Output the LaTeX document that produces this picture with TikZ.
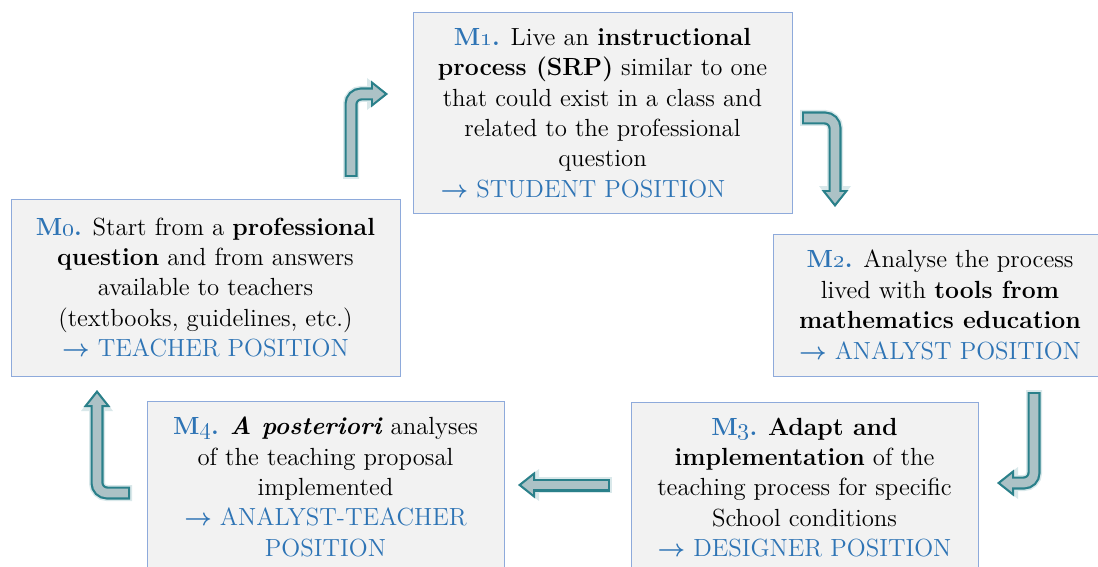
\documentclass[tikz,border=0pt]{standalone}
\usetikzlibrary{arrows.meta}

\definecolor{posblue}{RGB}{46,116,181}
\definecolor{boxline}{RGB}{142,170,219}
\definecolor{boxfill}{RGB}{242,242,242}
\definecolor{arrline}{RGB}{42,128,138}
\definecolor{arrfill}{RGB}{172,194,198}

\newcommand{\stage}[1]{\textcolor{posblue}{\textbf{M\oldstylenums{#1}.}}}
\newcommand{\role}[1]{\textcolor{posblue}{{\boldmath$\rightarrow$} #1}}

\tikzset{
  stagebox/.style={draw=boxline, fill=boxfill, line width=0.5pt, align=center,
    inner sep=0pt, font=\fontsize{12.4}{15.2}\selectfont},
  fatglow/.style={draw=arrline!18, line width=8pt, rounded corners=5pt,
    shorten <=-1pt,
    -{Triangle[width=16pt,length=10.5pt,line width=0pt]}},
  fatout/.style={draw=arrline, line width=6.5pt, rounded corners=5pt,
    -{Triangle[width=13.5pt,length=8.5pt,line width=0pt]}},
  fatin/.style={draw=arrfill, line width=4.3pt, rounded corners=5pt,
    shorten <=1.1pt, shorten >=1.8pt,
    -{Triangle[width=9pt,length=5.6pt,line width=0pt]}},
}

\begin{document}
\begin{tikzpicture}[x=0.5pt,y=-0.5pt]

      \useasboundingbox (0,0) rectangle (1098,567);

      \begin{scope}[every node/.style={stagebox}]
        \node[minimum width=194.5pt, minimum height=88.5pt] (m0) at (205.5,287.5)
          {\stage{0} Start from a \textbf{professional}\\
           \textbf{question} and from answers\\
           available to teachers\\
           (textbooks, guidelines, etc.)\\
           \role{TEACHER POSITION}};
        \node[minimum width=189.5pt, minimum height=100pt] (m1) at (602.5,113)
          {\stage{1} Live an \textbf{instructional}\\
           \textbf{process (SRP)} similar to one\\
           that could exist in a class and\\
           related to the professional\\
           question\\
           \role{STUDENT POSITION}\hspace*{19.5pt}};
        \node[minimum width=167pt, minimum height=71pt] (m2) at (940,305)
          {\stage{2} Analyse the process\\
           lived with \textbf{tools from}\\
           \textbf{mathematics education}\\
           \role{ANALYST POSITION}};
        \node[minimum width=173.5pt, minimum height=85.5pt] (m3) at (804.5,487.5)
          {\stage{3} \textbf{Adapt and}\\
           \textbf{implementation} of the\\
           teaching process for specific\\
           School conditions\\
           \role{DESIGNER POSITION}};
        \node[minimum width=178.5pt, minimum height=86pt] (m4) at (325.5,487)
          {\stage{4} \textbf{\textit{A posteriori}} analyses\\
           of the teaching proposal\\
           implemented\\
           \role{ANALYST-TEACHER}\\
           \textcolor{posblue}{POSITION}};
      \end{scope}

      \coordinate (a1s) at (351,177);
      \coordinate (a1e) at (388,94);
      \coordinate (a2s) at (802,118);
      \coordinate (a2e) at (835,207);
      \coordinate (a3s) at (1034,392);
      \coordinate (a3e) at (997,483);
      \coordinate (a4s) at (610,485);
      \coordinate (a4e) at (518,485);
      \coordinate (a5s) at (130,493);
      \coordinate (a5e) at (97,390);

      \draw[fatglow] (a1s) |- (a1e);
      \draw[fatglow] (a2s) -| (a2e);
      \draw[fatglow] (a3s) |- (a3e);
      \draw[fatglow] (a4s) -- (a4e);
      \draw[fatglow] (a5s) -| (a5e);

      \draw[fatout] (a1s) |- (a1e);
      \draw[fatin]  (a1s) |- (a1e);
      \draw[fatout] (a2s) -| (a2e);
      \draw[fatin]  (a2s) -| (a2e);
      \draw[fatout] (a3s) |- (a3e);
      \draw[fatin]  (a3s) |- (a3e);
      \draw[fatout] (a4s) -- (a4e);
      \draw[fatin]  (a4s) -- (a4e);
      \draw[fatout] (a5s) -| (a5e);
      \draw[fatin]  (a5s) -| (a5e);

    \end{tikzpicture}
\end{document}
